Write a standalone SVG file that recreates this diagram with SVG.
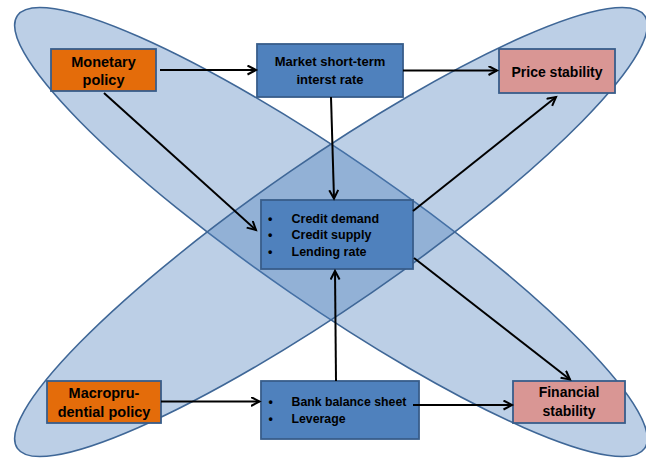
<svg xmlns="http://www.w3.org/2000/svg" width="646" height="458" viewBox="0 0 646 458">
<style>
.ell{fill:#4F81BD;fill-opacity:0.38;stroke:#3F6797;stroke-width:1.6}
.blue{fill:#4F81BD;stroke:#385D8A;stroke-width:1.8}
.orange{fill:#E46C0A;stroke:#385D8A;stroke-width:1.8}
.pink{fill:#D99694;stroke:#385D8A;stroke-width:1.8}
text{font-family:"Liberation Sans",Arial,sans-serif;font-weight:bold;fill:#000}
.c{text-anchor:middle}
.conn line{stroke:#000;stroke-width:2;marker-end:url(#arr)}
</style>
<defs>
<marker id="arr" markerUnits="userSpaceOnUse" markerWidth="12" markerHeight="12" refX="9" refY="5" orient="auto">
<path d="M0.5,0.5 L9,5 L0.5,9.5" fill="none" stroke="#000" stroke-width="2"/>
</marker>
</defs>
<g id="ellipses">
<ellipse class="ell" cx="331" cy="232" rx="381" ry="73" transform="rotate(34.6 331 232)"/>
<ellipse class="ell" cx="331" cy="232" rx="381" ry="73" transform="rotate(-34.6 331 232)"/>
</g>
<g id="monetary">
<rect class="orange" x="51" y="49" width="105" height="42"/>
<text class="c" x="103.5" y="66.5" font-size="14.5">Monetary</text>
<text class="c" x="103.5" y="85" font-size="14.5">policy</text>
</g>
<g id="market">
<rect class="blue" x="257" y="44" width="146" height="53"/>
<text class="c" x="330" y="66" font-size="13">Market short-term</text>
<text class="c" x="330" y="84" font-size="13">interst rate</text>
</g>
<g id="price">
<rect class="pink" x="499" y="49" width="116" height="44"/>
<text class="c" x="557" y="76.5" font-size="14">Price stability</text>
</g>
<g id="credit">
<rect class="blue" x="261" y="200" width="152" height="69"/>
<text x="268" y="222.5" font-size="12.5">•</text>
<text x="291.5" y="222.5" font-size="12.5">Credit demand</text>
<text x="268" y="239" font-size="12.5">•</text>
<text x="291.5" y="239" font-size="12.5">Credit supply</text>
<text x="268" y="255.5" font-size="12.5">•</text>
<text x="291.5" y="255.5" font-size="12.5">Lending rate</text>
</g>
<g id="macro">
<rect class="orange" x="47" y="381" width="114" height="42"/>
<text class="c" x="104" y="398" font-size="14.5">Macropru-</text>
<text class="c" x="104" y="417" font-size="14.5">dential policy</text>
</g>
<g id="bank">
<rect class="blue" x="261" y="381" width="158" height="58"/>
<text x="268.5" y="406" font-size="12.3">•</text>
<text x="291.5" y="406" font-size="12.3">Bank balance sheet</text>
<text x="268.5" y="423" font-size="12.3">•</text>
<text x="291.5" y="423" font-size="12.3">Leverage</text>
</g>
<g id="financial">
<rect class="pink" x="513" y="381" width="112" height="42"/>
<text class="c" x="569" y="397" font-size="14">Financial</text>
<text class="c" x="569" y="416" font-size="14">stability</text>
</g>
<g id="connectors" class="conn">
<line x1="160" y1="70" x2="256" y2="70"/>
<line x1="403" y1="70.5" x2="497" y2="70.5"/>
<line x1="104" y1="93" x2="256" y2="230"/>
<line x1="331" y1="97" x2="334" y2="198.5"/>
<line x1="413" y1="211" x2="556" y2="97"/>
<line x1="414" y1="258" x2="570" y2="379.5"/>
<line x1="336" y1="381" x2="335" y2="271"/>
<line x1="161" y1="401.5" x2="259.5" y2="401.5"/>
<line x1="413" y1="405" x2="512" y2="405"/>
</g>
</svg>
